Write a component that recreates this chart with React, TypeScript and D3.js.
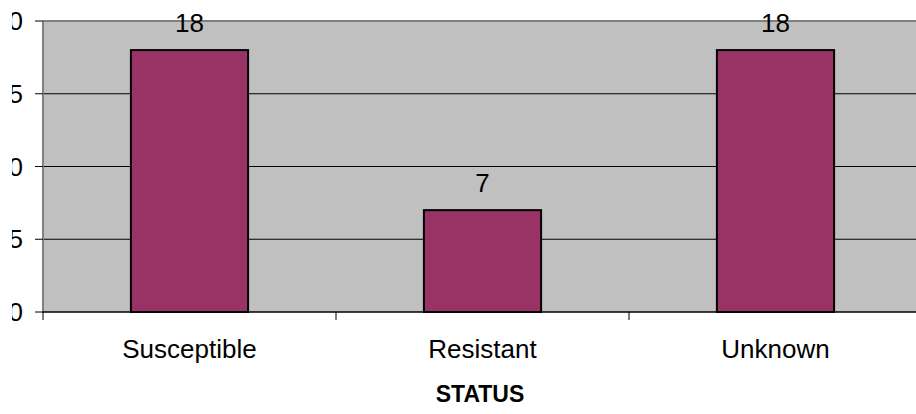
import { useMemo } from 'react';
import * as d3 from 'd3';

const categories = ['Susceptible', 'Resistant', 'Unknown'];
const counts = [18, 7, 18];
const yTicks = [0, 5, 10, 15, 20];
const axisTitle = 'STATUS';

const W = 916;
const H = 414;
const PLOT = { left: 43, right: 922, top: 21, bottom: 312 };
const FONT = '"Liberation Sans", Arial, sans-serif';

export default function App() {
    const x = useMemo(
        () => d3.scaleBand<string>()
            .domain(categories)
            .range([PLOT.left, PLOT.right])
            .paddingInner(0.6)
            .paddingOuter(0.3),
        []
    );
    const y = useMemo(
        () => d3.scaleLinear().domain([0, 20]).range([PLOT.bottom, PLOT.top]),
        []
    );

    const step = x.step();
    // category boundaries (tick marks between bands)
    const bounds = d3.range(categories.length + 1).map((i) => PLOT.left + i * step);

    return (
        <svg
            width={W}
            height={H}
            viewBox={`0 0 ${W} ${H}`}
            style={{ position: 'absolute', left: 0, top: 0, background: '#fff' }}
            fontFamily={FONT}
        >
            <defs>
                {/* the reference crops the left side of the value axis labels */}
                <clipPath id="ylab">
                    <rect x={12} y={0} width={40} height={H} />
                </clipPath>
            </defs>

            {/* plot area */}
            <rect x={PLOT.left} y={PLOT.top} width={PLOT.right - PLOT.left} height={PLOT.bottom - PLOT.top} fill="#C0C0C0" />
            <line x1={PLOT.left} x2={PLOT.right} y1={PLOT.top} y2={PLOT.top} stroke="#808080" strokeWidth={2} />

            {/* gridlines */}
            {yTicks.filter((t) => t > 0 && t < 20).map((t) => (
                <line key={t} x1={PLOT.left} x2={PLOT.right} y1={y(t)} y2={y(t)} stroke="#000" strokeWidth={1} />
            ))}

            {/* bars */}
            {categories.map((c, i) => (
                <rect
                    key={c}
                    x={x(c)}
                    y={y(counts[i])}
                    width={x.bandwidth()}
                    height={y(0) - y(counts[i])}
                    fill="#993366"
                    stroke="#000"
                    strokeWidth={2}
                />
            ))}

            {/* value labels */}
            {categories.map((c, i) => (
                <text
                    key={c}
                    x={(x(c) ?? 0) + x.bandwidth() / 2}
                    y={y(counts[i]) - 18}
                    textAnchor="middle"
                    fontSize={26}
                    fill="#000"
                >
                    {counts[i]}
                </text>
            ))}

            {/* y axis */}
            <line x1={PLOT.left} x2={PLOT.left} y1={PLOT.top} y2={PLOT.bottom + 1} stroke="#808080" strokeWidth={2} />
            {yTicks.map((t) => (
                <line key={t} x1={35} x2={PLOT.left} y1={y(t)} y2={y(t)} stroke="#000" strokeWidth={1} />
            ))}
            <g clipPath="url(#ylab)">
                {yTicks.map((t) => (
                    <text key={t} x={23} y={y(t) + 9} textAnchor="end" fontSize={26} fill="#000">
                        {t}
                    </text>
                ))}
            </g>

            {/* x axis */}
            <line x1={PLOT.left} x2={PLOT.right} y1={PLOT.bottom} y2={PLOT.bottom} stroke="#000" strokeWidth={1.5} />
            {bounds.map((b) => (
                <line key={b} x1={b} x2={b} y1={PLOT.bottom} y2={PLOT.bottom + 8} stroke="#000" strokeWidth={1} />
            ))}
            {categories.map((c) => (
                <text
                    key={c}
                    x={(x(c) ?? 0) + x.bandwidth() / 2}
                    y={358}
                    textAnchor="middle"
                    fontSize={26}
                    fill="#000"
                >
                    {c}
                </text>
            ))}
            <text x={480} y={402} textAnchor="middle" fontSize={23} fontWeight="bold" fill="#000">
                {axisTitle}
            </text>
        </svg>
    );
}
